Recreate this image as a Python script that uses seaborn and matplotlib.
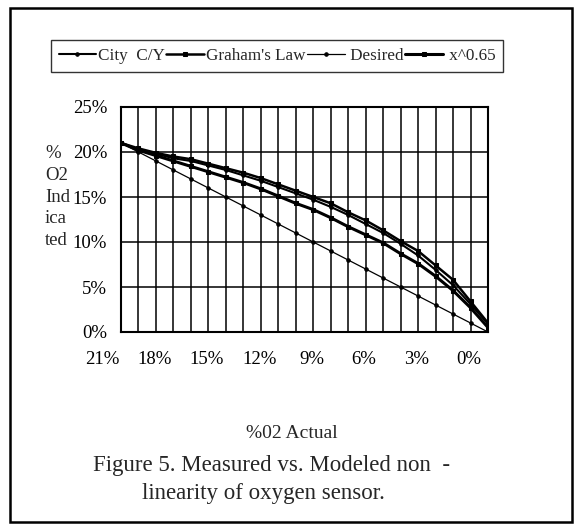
import matplotlib
matplotlib.use("Agg")
import matplotlib.pyplot as plt
import matplotlib.transforms as mtransforms
from matplotlib.patches import Rectangle
from matplotlib.ticker import PercentFormatter
import seaborn as sns
import pandas as pd

# ---- data ----
actual = [21, 20, 19, 18, 17, 16, 15, 14, 13, 12, 11, 10, 9, 8, 7, 6, 5, 4, 3, 2, 1, 0]
tick_labels = ["21%", "18%", "15%", "12%", "9%", "6%", "3%", "0%"]
city_cy = [21.0, 20.3, 19.8, 19.3, 19.0, 18.5, 18.0, 17.4, 16.8, 16.1, 15.4,
           14.7, 13.9, 13.0, 12.0, 11.0, 9.8, 8.5, 6.9, 5.2, 3.1, 0.9]
grahams_law = [21.0, 20.4, 19.9, 19.5, 19.2, 18.7, 18.2, 17.7, 17.1, 16.4, 15.7,
               15.0, 14.3, 13.3, 12.4, 11.3, 10.1, 9.0, 7.4, 5.8, 3.4, 1.0]
desired = [21, 20, 19, 18, 17, 16, 15, 14, 13, 12, 11, 10, 9, 8, 7, 6, 5, 4, 3, 2, 1, 0]
x_065 = [21.0, 20.2, 19.6, 19.0, 18.4, 17.8, 17.2, 16.6, 15.9, 15.1, 14.3,
         13.6, 12.7, 11.7, 10.8, 9.9, 8.7, 7.6, 6.2, 4.6, 2.7, 0.5]
series_names = ["City  C/Y", "Graham's Law", " Desired", " x^0.65"]

rows = []
for name, vals in zip(series_names, [city_cy, grahams_law, desired, x_065]):
    for i, (a, v) in enumerate(zip(actual, vals)):
        rows.append({"pos": i, "actual": a, "value": v / 100.0, "series": name})
df = pd.DataFrame(rows)

sns.set_theme(style="white")
plt.rcParams['font.family'] = ['Liberation Serif', 'DejaVu Serif']

W, H = 578, 529
fig = plt.figure(figsize=(W / 100, H / 100), dpi=100)
fig.patch.set_facecolor("white")
ax = fig.add_axes([121 / W, 1 - 332 / H, (488 - 121) / W, (332 - 107) / H])

styles = {
    "City  C/Y": dict(lw=1.5, marker="o", ms=2.5),
    "Graham's Law": dict(lw=1.8, marker="s", ms=3.0),
    " Desired": dict(lw=0.9, marker="o", ms=2.5),
    " x^0.65": dict(lw=2.2, marker="s", ms=3.5),
}
for name in series_names:
    st = styles[name]
    sns.lineplot(data=df[df.series == name], x="pos", y="value", ax=ax,
                 color="black", linewidth=st["lw"], marker=st["marker"],
                 markersize=st["ms"], markeredgecolor="black", label=name,
                 legend=False)

n = len(actual)
ax.set_xlim(0, n - 1)
ax.set_ylim(0, 0.25)
ax.set_xticks(range(n))
lab_map = {i: tick_labels[k] for k, i in enumerate(range(0, n, 3))}
ax.set_xticklabels([lab_map.get(i, "") for i in range(n)])
ax.set_yticks([0, 0.05, 0.10, 0.15, 0.20, 0.25])
ax.yaxis.set_major_formatter(PercentFormatter(1.0, decimals=0))
ax.set_xlabel("")
ax.set_ylabel("")
ax.grid(True, color="black", linewidth=1.1)
for sp in ax.spines.values():
    sp.set_color("black")
    sp.set_linewidth(1.5)
ax.tick_params(axis="both", direction="inout", length=8, width=1.2,
               colors="black", labelsize=13.5)
ax.tick_params(axis="x", pad=10)
ax.tick_params(axis="y", pad=6)

offset = mtransforms.ScaledTranslation(-19 / 100, 0, fig.dpi_scale_trans)
for lbl in ax.get_xticklabels():
    lbl.set_transform(lbl.get_transform() + offset)

handles, labels = ax.get_legend_handles_labels()
leg = fig.legend(handles, labels, loc="center", bbox_to_anchor=(277 / W, 1 - 56 / H),
                 ncol=4, frameon=True, fancybox=False, edgecolor="black",
                 columnspacing=0.1, handlelength=2.2, handletextpad=0.1,
                 borderpad=0.45, fontsize=12.3)
leg.get_frame().set_linewidth(1.0)

fig.text(45 / W, 1 - 197 / H, "%\nO2\nInd\nica\nted", ha="left", va="center",
         fontsize=13.5, linespacing=1.38)
fig.text(292 / W, 1 - 433 / H, "%02 Actual", ha="center", va="center", fontsize=14)
fig.text(272 / W, 1 - 465 / H, "Figure 5. Measured vs. Modeled non  -",
         ha="center", va="center", fontsize=16.5)
fig.text(263 / W, 1 - 493 / H, "linearity of oxygen sensor.",
         ha="center", va="center", fontsize=16.5)

fig.add_artist(Rectangle((10 / W, 1 - 522 / H), (572 - 10) / W, (522 - 8) / H,
                         transform=fig.transFigure, fill=False,
                         edgecolor="black", linewidth=1.8))

fig.savefig("out.png", dpi=100)
